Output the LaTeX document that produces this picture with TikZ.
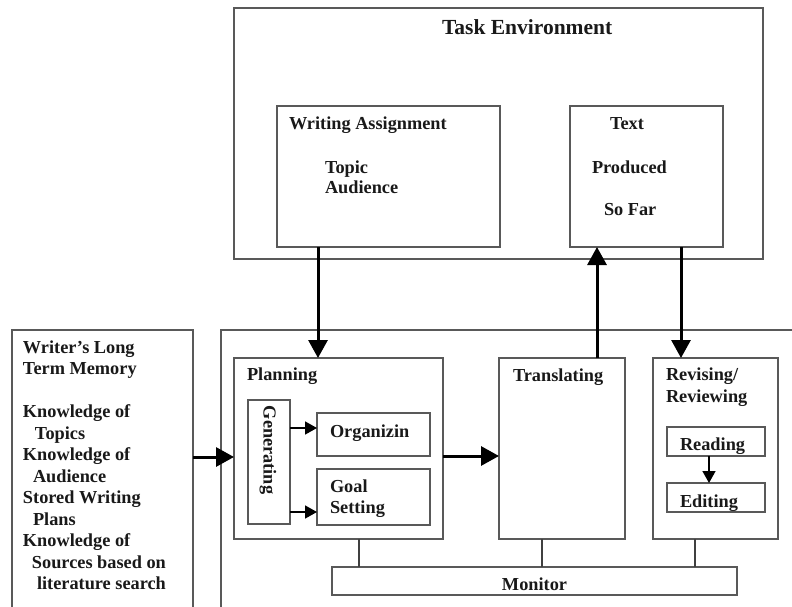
\documentclass[tikz,border=0pt]{standalone}
\usepackage{fontspec}
\setmainfont{Liberation Serif}
\usetikzlibrary{arrows.meta}
\begin{document}
\begin{tikzpicture}[x=1pt,y=-1pt,
  box/.style={draw=black!65, line width=1.4pt, inner sep=0pt, outer sep=0pt, anchor=north west},
  lbl/.style={inner sep=0pt, outer sep=0pt, anchor=base west, text=black!90,
    font=\fontsize{18.3}{21.5}\selectfont\bfseries},
  bigarrow/.style={line width=3pt, -{Triangle[length=18pt,width=19pt]}},
  smallarrow/.style={line width=1.6pt, -{Triangle[length=12pt,width=13pt]}},
  wire/.style={line width=1.3pt, draw=black!75}]
\useasboundingbox (0,0) rectangle (792,607);
\fill[white] (0,0) rectangle (792,607);

% outer boxes
\node[box, minimum width=529pt, minimum height=251pt] (task) at (234,8) {};
\node[box, minimum width=223pt, minimum height=141pt] (wa) at (277,106) {};
\node[box, minimum width=153pt, minimum height=141pt] (text) at (570,106) {};
\node[box, minimum width=181pt, minimum height=300pt] (mem) at (12,330) {};
\node[box, minimum width=600pt, minimum height=300pt] (frame) at (221,330) {};

% process boxes
\node[box, minimum width=209pt, minimum height=181pt] (plan) at (234,358) {};
\node[box, minimum width=126pt, minimum height=181pt] (trans) at (499,358) {};
\node[box, minimum width=125pt, minimum height=181pt] (rev) at (653,358) {};
\node[box, minimum width=405pt, minimum height=28pt] (mon) at (332,567) {};
\node[box, minimum width=42pt, minimum height=124pt] (gen) at (248,400) {};
\node[box, minimum width=113pt, minimum height=43pt] (org) at (317,413) {};
\node[box, minimum width=113pt, minimum height=56pt] (goal) at (317,469) {};
\node[box, minimum width=98pt, minimum height=29pt] (read) at (667,427) {};
\node[box, minimum width=98pt, minimum height=29pt] (edit) at (667,483) {};

% texts
\node[lbl, font=\fontsize{21.5}{24}\selectfont\bfseries] (tTask) at (442,35) {Task Environment};
\node[lbl] (tWA) at (289,129) {Writing Assignment};
\node[lbl] (tTopic) at (325,173) {Topic};
\node[lbl] (tAud) at (325,193) {Audience};
\node[lbl] (tText) at (610,130) {Text};
\node[lbl] (tProd) at (592,173) {Produced};
\node[lbl] (tSoFar) at (604,215) {So Far};
\node[lbl] (tPlan) at (247,380) {Planning};
\node[lbl] (tTrans) at (513,381) {Translating};
\node[lbl] (tRev1) at (666,380) {Revising/};
\node[lbl] (tRev2) at (666,402) {Reviewing};
\node[lbl] (tOrg) at (330,437) {Organizin};
\node[lbl] (tGoal) at (330,492) {Goal};
\node[lbl] (tSet) at (330,513) {Setting};
\node[lbl] (tRead) at (680,450) {Reading};
\node[lbl] (tEdit) at (680,507) {Editing};
\node[lbl, anchor=base] (tMon) at (534.5,590) {Monitor};
\node[lbl, anchor=center, rotate=-90] (tGen) at (268,450) {Generating};

\node[lbl, anchor=north west, align=left] (tMem) at (23,340.5)
  {Writer’s Long\\Term Memory\\[21.5pt]Knowledge of\\\hspace*{12pt}Topics\\Knowledge of\\\hspace*{10pt}Audience\\Stored Writing\\\hspace*{10pt}Plans\\Knowledge of\\\hspace*{9pt}Sources based on\\\hspace*{14pt}literature search};

% connectors
\coordinate (c1) at (318,0);
\coordinate (c2) at (597,0);
\coordinate (c3) at (681,0);
\coordinate (c4) at (0,457);
\coordinate (c5) at (0,456);
\coordinate (c6) at (0,428);
\coordinate (c7) at (0,512);
\coordinate (c8) at (709,0);
\coordinate (m1) at (359,0);
\coordinate (m2) at (542,0);
\coordinate (m3) at (695,0);

\draw[bigarrow] (wa.south -| c1) -- (plan.north -| c1);
\draw[bigarrow] (trans.north -| c2) -- (text.south -| c2);
\draw[bigarrow] (text.south -| c3) -- (rev.north -| c3);
\draw[bigarrow] (mem.east |- c4) -- (plan.west |- c4);
\draw[bigarrow] (plan.east |- c5) -- (trans.west |- c5);
\draw[smallarrow] (gen.east |- c6) -- (org.west |- c6);
\draw[smallarrow] (gen.east |- c7) -- (goal.west |- c7);
\draw[smallarrow] (read.south -| c8) -- (edit.north -| c8);
\draw[wire] (plan.south -| m1) -- (mon.north -| m1);
\draw[wire] (trans.south -| m2) -- (mon.north -| m2);
\draw[wire] (rev.south -| m3) -- (mon.north -| m3);
\end{tikzpicture}
\end{document}
